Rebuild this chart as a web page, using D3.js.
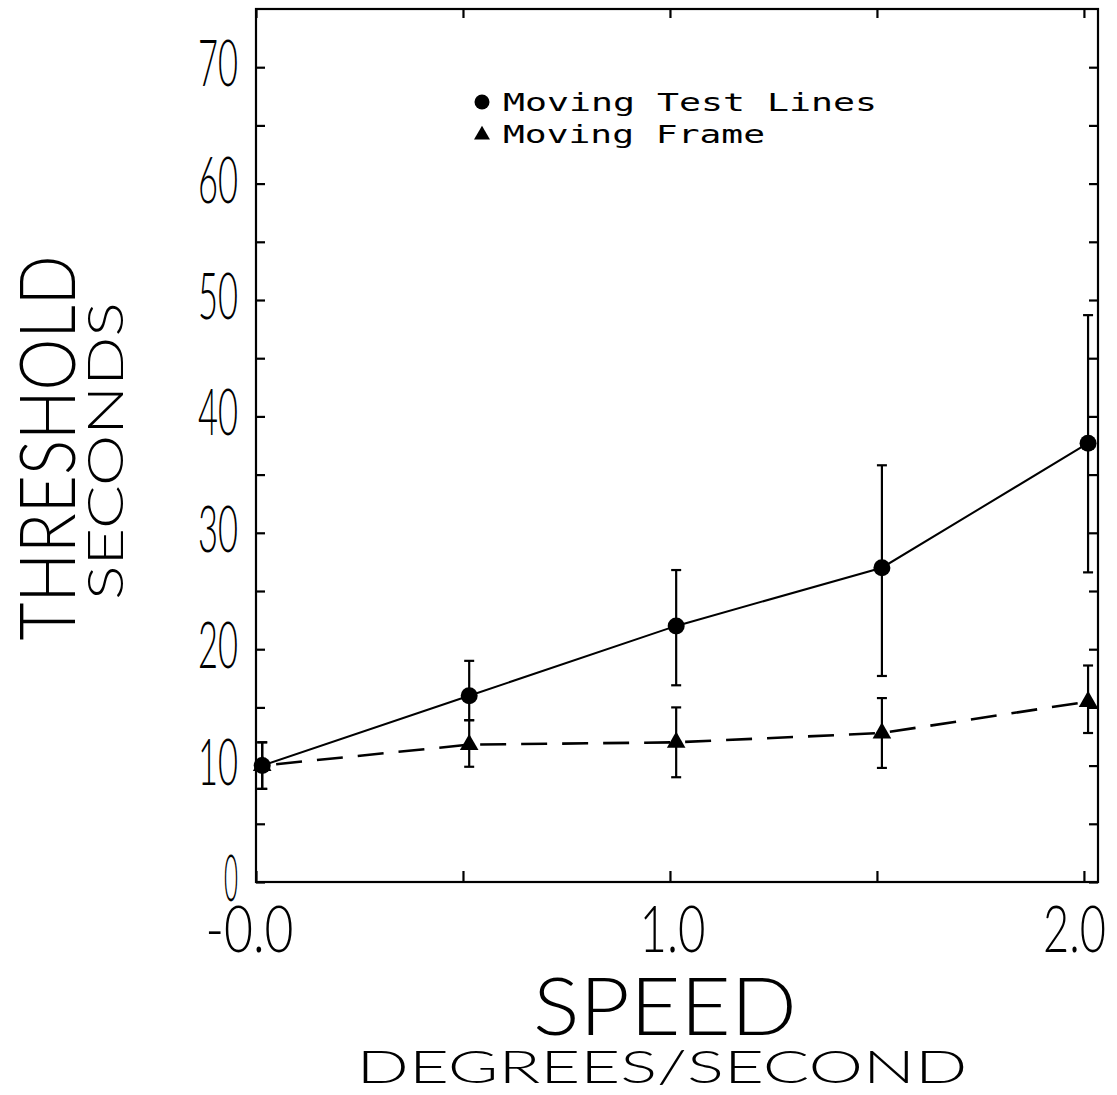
<!DOCTYPE html>
<html><head><meta charset="utf-8">
<script src="https://cdn.jsdelivr.net/npm/d3@7"></script>
<style>
html,body{margin:0;padding:0;background:#fff;}
svg{display:block;}
</style></head>
<body>
<svg id="chart" width="1117" height="1095"></svg>
<script>
// ---- data ----
const speeds = [0.015, 0.515, 1.015, 1.512, 2.01];
const testLinesMean = [10, 16, 22, 27, 37.7];
const testLinesLow  = [8, 13.9, 16.9, 17.7, 26.6];
const testLinesHigh = [12, 19, 26.8, 35.8, 48.7];
const frameMean = [10, 11.8, 12, 12.8, 15.5];
const frameLow  = [8, 9.9, 9, 9.8, 12.8];
const frameHigh = [12, 13.9, 15, 15.8, 18.6];
const xTicks = [0, 0.5, 1, 1.5, 2];
const xTickLabels = {0: "-0.0", 1: "1.0", 2: "2.0"};
const yTicks = [0,5,10,15,20,25,30,35,40,45,50,55,60,65,70];
const legendLabels = ["Moving Test Lines", "Moving Frame"];

const svg = d3.select("#chart");
const L = 256, R = 1098, T = 9, B = 882;
const x = d3.scaleLinear().domain([0, 2.034]).range([L, R]);
const y = d3.scaleLinear().domain([0, 75]).range([B, T]);
const thinFont = "Lato";

// frame
svg.append("rect").attr("x", L).attr("y", T).attr("width", R-L).attr("height", B-T)
  .attr("fill","none").attr("stroke","#000").attr("stroke-width",2.2);

// axes
function styleAxis(g){ g.select(".domain").remove(); g.selectAll("line").attr("stroke","#000").attr("stroke-width",2.2); }

const yAxis = d3.axisLeft(y).tickValues(yTicks).tickSizeInner(-9).tickSizeOuter(0).tickPadding(18)
  .tickFormat(d => d % 10 === 0 ? String(d) : "");
const gy = svg.append("g").attr("transform", `translate(${L},0)`).call(yAxis).call(styleAxis);
gy.selectAll("text").attr("font-family", thinFont).attr("font-weight", 300).attr("font-size", 66)
  .attr("fill","#000").attr("dy","0.28em")
  .each(function(d){ const t=d3.select(this); const s=t.text(); if(s) t.attr("textLength", s.length===1 ? 14 : 20*s.length).attr("lengthAdjust","spacingAndGlyphs"); });

const yAxisR = d3.axisRight(y).tickValues(yTicks).tickSizeInner(-9).tickSizeOuter(0).tickFormat("");
svg.append("g").attr("transform", `translate(${R},0)`).call(yAxisR).call(styleAxis);

const xAxis = d3.axisBottom(x).tickValues(xTicks).tickSizeInner(-11).tickSizeOuter(0).tickPadding(22)
  .tickFormat(d => xTickLabels[d] || "");
const gx = svg.append("g").attr("transform", `translate(0,${B})`).call(xAxis).call(styleAxis);
gx.selectAll("text").attr("font-family", thinFont).attr("font-weight", 300).attr("font-size", 66)
  .attr("fill","#000").attr("dy","0.72em")
  .each(function(d){ const t=d3.select(this); const s=t.text(); if(s){ t.attr("textLength", (d===2?21:22)*s.length).attr("lengthAdjust","spacingAndGlyphs"); } if(d===2) t.attr("dx",-10); if(d===0) t.attr("dx",-7); if(d===1) t.attr("dx",2); });

const xAxisT = d3.axisTop(x).tickValues(xTicks).tickSizeInner(-9).tickSizeOuter(0).tickFormat("");
svg.append("g").attr("transform", `translate(0,${T})`).call(xAxisT).call(styleAxis);

// axis titles
function title(txt, xPos, yPos, size, len, rot){
  svg.append("text").attr("transform", `translate(${xPos},${yPos}) rotate(${rot})`)
    .attr("text-anchor","middle").attr("font-family", thinFont).attr("font-weight",300)
    .attr("font-size", size).attr("fill","#000")
    .attr("textLength", len).attr("lengthAdjust","spacingAndGlyphs").text(txt);
}
title("THRESHOLD", 75, 448, 76, 385, -90);
title("SECONDS", 123, 451, 49, 298, -90);
title("SPEED", 665, 1035, 80, 264, 0);
title("DEGREES/SECOND", 662, 1083, 46, 611, 0);

// series
const testPts = speeds.map((s,i)=>({x:s, m:testLinesMean[i], lo:testLinesLow[i], hi:testLinesHigh[i]}));
const framePts = speeds.map((s,i)=>({x:s, m:frameMean[i], lo:frameLow[i], hi:frameHigh[i]}));
const line = d3.line().x(d=>x(d.x)).y(d=>y(d.m));

svg.append("path").datum(framePts).attr("d", line).attr("fill","none").attr("stroke","#000")
  .attr("stroke-width",2.6).attr("stroke-dasharray","26,15").attr("stroke-dashoffset",-14);
svg.append("path").datum(testPts).attr("d", line).attr("fill","none").attr("stroke","#000").attr("stroke-width",2);

function errorBars(pts){
  const g = svg.append("g").attr("stroke","#000").attr("stroke-width",2.2);
  g.selectAll(".v").data(pts).join("line").attr("x1",d=>x(d.x)).attr("x2",d=>x(d.x)).attr("y1",d=>y(d.lo)).attr("y2",d=>y(d.hi));
  g.selectAll(".c1").data(pts).join("line").attr("x1",d=>x(d.x)-5).attr("x2",d=>x(d.x)+5).attr("y1",d=>y(d.lo)).attr("y2",d=>y(d.lo));
  g.selectAll(".c2").data(pts).join("line").attr("x1",d=>x(d.x)-5).attr("x2",d=>x(d.x)+5).attr("y1",d=>y(d.hi)).attr("y2",d=>y(d.hi));
}
errorBars(testPts);
errorBars(framePts);

const tri = d3.symbol().type(d3.symbolTriangle).size(150);
svg.append("g").selectAll("path").data(framePts).join("path")
  .attr("d", tri).attr("transform", d=>`translate(${x(d.x)},${y(d.m)})`).attr("fill","#000");
svg.append("g").selectAll("circle").data(testPts).join("circle")
  .attr("cx", d=>x(d.x)).attr("cy", d=>y(d.m)).attr("r", 8.5).attr("fill","#000");

// legend
const legend = svg.append("g");
const legendLens = [374, 262];
legendLabels.forEach((lab, i) => {
  const cy = 102 + i*32;
  if (i === 0) legend.append("circle").attr("cx",482).attr("cy",cy).attr("r",7.5).attr("fill","#000");
  else legend.append("path").attr("d", d3.symbol().type(d3.symbolTriangle).size(110)).attr("transform",`translate(482,${cy+1})`).attr("fill","#000");
  legend.append("text").attr("x", 503).attr("y", cy + 9).attr("font-family","DejaVu Sans Mono")
    .attr("font-size", 25).attr("fill","#000")
    .attr("textLength", legendLens[i]).attr("lengthAdjust","spacingAndGlyphs").text(lab);
});
</script>
</body></html>
